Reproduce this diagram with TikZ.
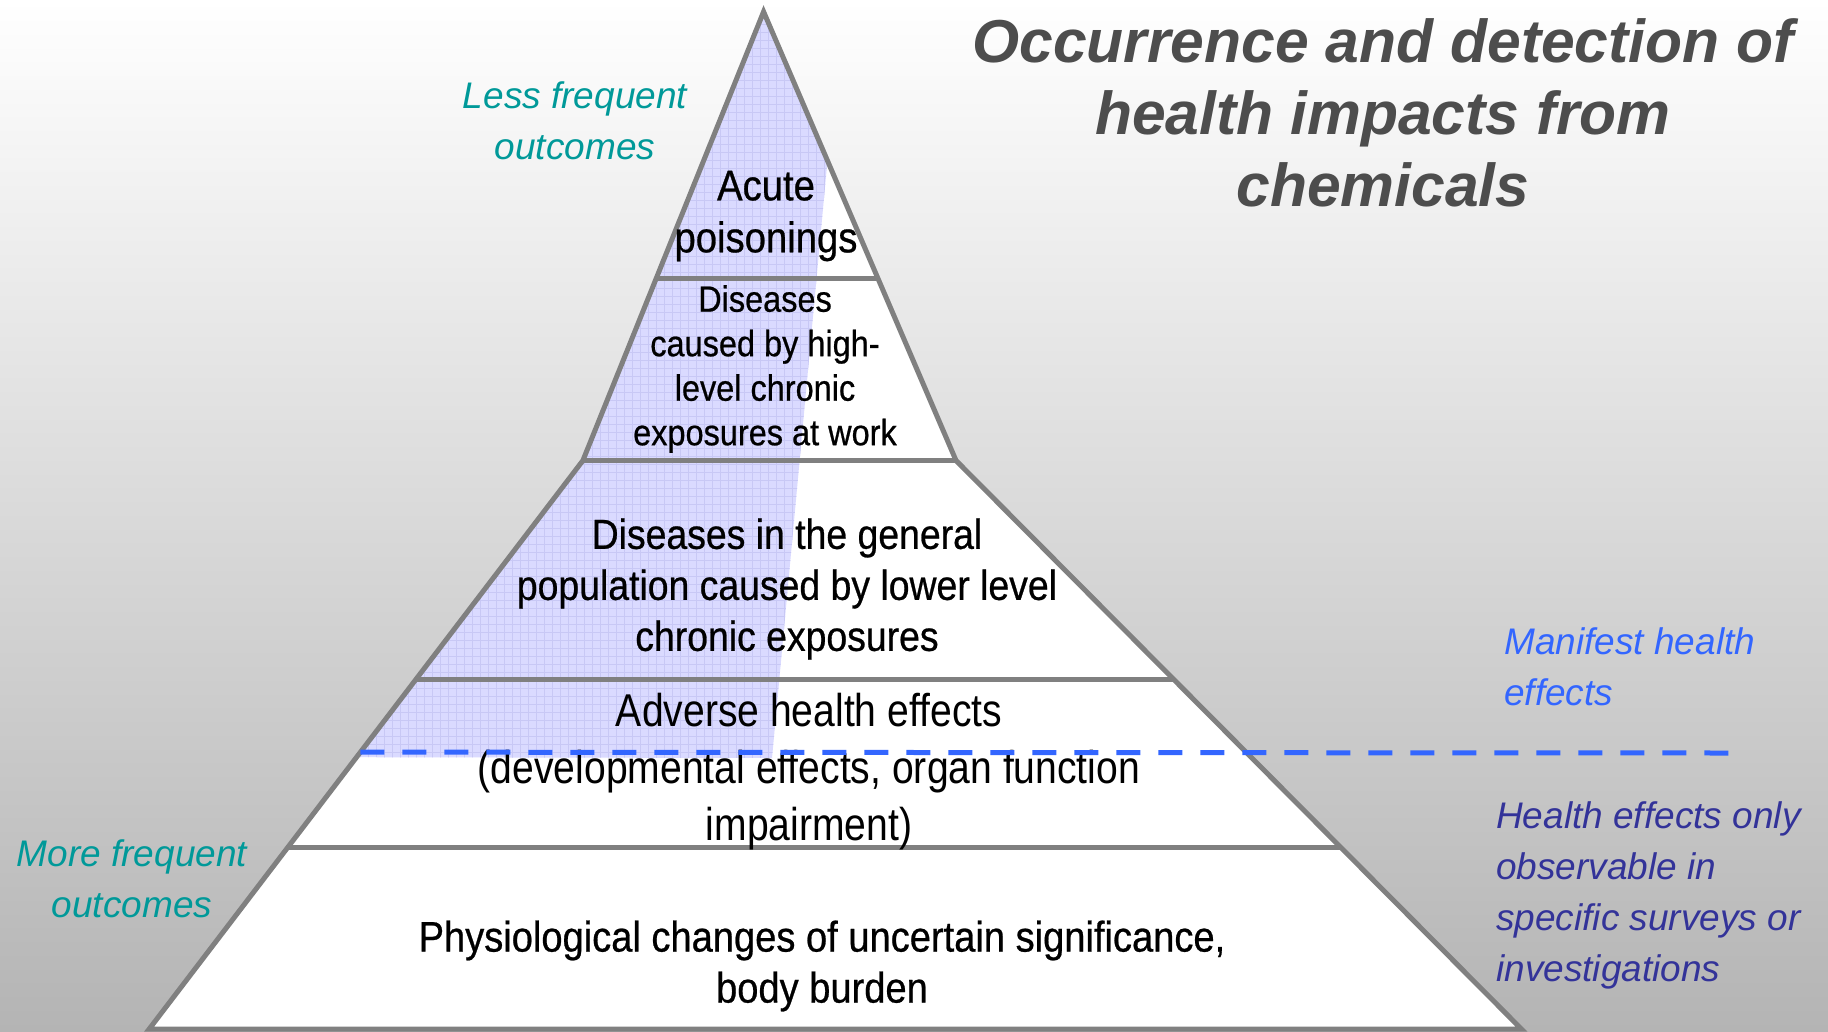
\documentclass[tikz,border=0pt]{standalone}
\usepackage{fontspec}
\setmainfont{Liberation Sans}
\newfontfamily\narrowfont[FakeStretch=0.89,FakeBold=0.6]{Liberation Sans}
\newfontfamily\adversefont[FakeStretch=0.85]{Liberation Sans}
\usetikzlibrary{calc}

\definecolor{edgegray}{RGB}{128,128,128}
\definecolor{shadeblue}{RGB}{218,218,255}
\definecolor{gridblue}{RGB}{200,200,245}
\definecolor{freqteal}{RGB}{0,153,153}
\definecolor{manifestblue}{RGB}{51,102,255}
\definecolor{surveyblue}{RGB}{51,51,153}
\definecolor{titlegray}{RGB}{77,77,77}

\tikzset{
	levelline/.style={edgegray,line width=5pt},
	leveltext/.style={align=center,inner sep=0pt,font=\narrowfont\fontsize{42}{51}\selectfont},
	freqtext/.style={align=center,inner sep=0pt,freqteal,font=\itshape\fontsize{37}{51}\selectfont},
	sidetext/.style={align=left,anchor=west,inner sep=0pt,font=\itshape\fontsize{37}{51}\selectfont},
}

\begin{document}
\begin{tikzpicture}[x=1pt,y=-1pt]

			\useasboundingbox (0,0) rectangle (1828,1031);
			\shade [top color=white,bottom color={rgb,255:red,180;green,180;blue,180}] (0,0) rectangle (1828,1031);

			\coordinate (apex) at (763.6,11.7);
			\coordinate (midl) at (582.9,460.5);
			\coordinate (midr) at (956,460.5);
			\coordinate (botl) at (149.2,1029);
			\coordinate (botr) at (1521.4,1029);

			\fill [white] (apex) -- (midr) -- (botr) -- (botl) -- (midl) -- cycle;

			\begin{scope}
				\clip (apex) -- (827.5,160) -- (772,758) -- ($(midl)!0.5219!(botl)$) -- (midl) -- cycle;
				\fill [shadeblue] (300,0) rectangle (900,800);
				\draw [gridblue,line width=0.8pt] (300,0) grid [step=8pt] (900,800);
			\end{scope}

			\draw [levelline] ($(apex)!0.595!(midl)$) -- ($(apex)!0.595!(midr)$);
			\draw [levelline] (midl) -- (midr);
			\draw [levelline] ($(midl)!0.3845!(botl)$) -- ($(midr)!0.3845!(botr)$);
			\draw [levelline] ($(midl)!0.6809!(botl)$) -- ($(midr)!0.6809!(botr)$);
			\draw [levelline] (apex) -- (midr) -- (botr) -- (botl) -- (midl) -- cycle;

			\node [leveltext,font=\narrowfont\fontsize{43}{52}\selectfont] (acute) at (766,216) {Acute\\poisonings};
			\node [leveltext,font=\narrowfont\fontsize{36.5}{44.5}\selectfont] (work) at (765,369) {Diseases\\caused by high-\\level chronic\\exposures at work};
			\node [leveltext] (general) at (787,589) {Diseases in the general\\population caused by lower level\\chronic exposures};
			\node [leveltext,font=\adversefont\fontsize{46}{57}\selectfont] (adverse) at (809,772) {Adverse health effects\\(developmental effects, organ function\\impairment)};
			\node [leveltext,font=\narrowfont\fontsize{42.8}{51}\selectfont] (physio) at (822,966) {Physiological changes of uncertain significance,\\body burden};

			\node [freqtext] (less) at (575,121) {Less frequent\\outcomes};
			\node [freqtext] (more) at (132,879) {More frequent\\outcomes};
			\node [sidetext,manifestblue] (manifest) at (1504,667) {Manifest health\\effects};
			\node [sidetext,surveyblue] (surveys) at (1496,895) {Health effects only\\observable in\\specific surveys or\\investigations};

			\node [align=center,inner sep=0pt,titlegray,font=\bfseries\itshape\fontsize{60.6}{72}\selectfont] (title) at (1383,113) {Occurrence and detection of\\health impacts from\\chemicals};

			\coordinate (dashl) at ($(midl)!0.513!(botl)$);
			\coordinate (dashr) at (1729,753);
			\draw [manifestblue,line width=5pt,dash pattern=on 24pt off 18pt] (dashl) -- (dashr);

		\end{tikzpicture}
\end{document}
